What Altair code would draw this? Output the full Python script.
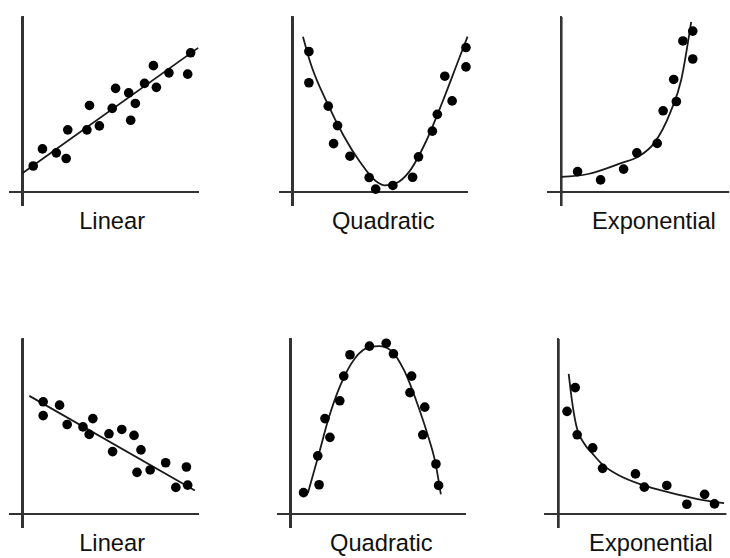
import altair as alt
import pandas as pd

# ---- scatter data and fitted curves for each of the six panels ----
# Top row: increasing relationships
lin_up_x = [10.6, 20.0, 34.0, 44.0, 45.6, 65.0, 67.6, 77.6, 90.6, 94.0, 107.3, 109.3, 114.0, 123.3, 132.3, 135.3, 148.0, 167.0, 170.0]
lin_up_y = [26.4, 43.7, 39.7, 34.0, 63.0, 63.0, 87.7, 67.0, 84.7, 105.0, 100.4, 72.7, 89.7, 110.0, 128.0, 106.0, 120.7, 119.4, 141.0]
lin_up_fit_x = [0.0, 177.6]
lin_up_fit_y = [19.3, 146.0]

quad_up_x = [16.7, 16.7, 36.3, 45.7, 41.7, 58.3, 77.7, 84.3, 101.7, 121.7, 127.7, 141.7, 146.7, 154.3, 161.7, 175.7, 175.7]
quad_up_y = [142.3, 110.7, 87.0, 67.3, 49.0, 36.3, 14.7, 3.0, 6.7, 15.0, 35.7, 61.7, 78.7, 117.3, 92.3, 146.3, 126.7]
quad_up_fit_x = [10.7, 18.3, 35.0, 51.7, 68.3, 85.0, 93.3, 105.0, 118.3, 135.0, 151.7, 168.3, 177.3]
quad_up_fit_y = [157.3, 130.7, 90.7, 57.3, 30.7, 10.7, 6.7, 9.0, 20.7, 50.7, 90.7, 134.0, 157.3]

exp_up_x = [16.7, 40.0, 63.3, 76.7, 97.3, 103.3, 116.7, 114.0, 123.3, 133.3, 133.3]
exp_up_y = [20.7, 12.3, 23.3, 39.7, 49.3, 82.3, 91.7, 114.0, 153.0, 163.0, 134.7]
exp_up_fit_x = [0.0, 27.3, 60.7, 78.3, 94.0, 110.7, 121.7, 131.7]
exp_up_fit_y = [15.3, 18.3, 29.3, 36.0, 49.3, 81.0, 114.0, 172.3]

# Bottom row: decreasing / peaked relationships
lin_down_x = [20.7, 20.7, 37.3, 45.0, 61.0, 67.3, 71.0, 87.3, 91.0, 100.3, 112.7, 119.7, 115.7, 129.0, 144.7, 155.0, 165.7, 167.0]
lin_down_y = [113.7, 99.7, 110.3, 90.7, 88.3, 80.7, 96.7, 81.3, 63.3, 85.7, 79.7, 65.0, 42.3, 44.7, 52.0, 27.0, 47.7, 29.3]
lin_down_fit_x = [6.7, 174.3]
lin_down_fit_y = [119.7, 24.0]

quad_down_x = [13.3, 29.0, 27.7, 40.0, 35.0, 50.0, 54.0, 60.3, 80.0, 97.0, 104.3, 122.7, 121.0, 136.0, 134.0, 147.3, 150.0]
quad_down_y = [21.7, 29.7, 59.0, 77.7, 96.7, 114.7, 139.7, 161.3, 170.0, 173.0, 162.3, 139.7, 123.0, 108.3, 80.3, 50.7, 29.0]
quad_down_fit_x = [17.7, 28.3, 38.3, 50.0, 65.0, 80.0, 90.0, 101.7, 115.0, 128.3, 138.3, 146.7, 152.3]
quad_down_fit_y = [21.3, 59.0, 95.7, 129.0, 157.3, 169.0, 170.0, 165.7, 145.7, 112.3, 82.3, 52.3, 20.0]

exp_down_x = [9.0, 17.3, 19.3, 35.0, 45.0, 78.3, 87.3, 110.0, 130.3, 148.3, 158.3]
exp_down_y = [104.0, 128.0, 80.3, 67.0, 46.3, 40.7, 27.3, 29.0, 10.0, 20.0, 10.3]
exp_down_fit_x = [10.7, 14.0, 18.3, 26.7, 35.0, 45.0, 60.0, 86.7, 113.3, 140.0, 168.0]
exp_down_fit_y = [142.0, 115.0, 90.0, 71.0, 61.0, 50.0, 40.0, 29.0, 21.7, 15.5, 11.0]

FONT = "Liberation Sans"
Y_DOMAIN = [-14, 186]
PANEL_H = 200


def panel(label, xs, ys, fx, fy, x_max, width, axis_end, title_dx):
    pts = pd.DataFrame({"x": xs, "y": ys})
    fit = pd.DataFrame({"x": fx, "y": fy})
    xs_scale = alt.Scale(domain=[-14, x_max], nice=False, zero=False)
    ys_scale = alt.Scale(domain=Y_DOMAIN, nice=False, zero=False)

    # plain crossing axis lines
    x_axis = alt.Chart(pts).mark_rule(color="#333", strokeWidth=2).encode(
        x=alt.datum(-13.5, scale=xs_scale, axis=None),
        x2=alt.datum(axis_end),
        y=alt.datum(0, scale=ys_scale, axis=None),
    )
    y_axis = alt.Chart(pts).mark_rule(color="#333", strokeWidth=2).encode(
        x=alt.datum(0, scale=xs_scale, axis=None),
        y=alt.datum(-14, scale=ys_scale, axis=None),
        y2=alt.datum(177.5),
    )
    curve = alt.Chart(fit).mark_line(
        color="#1a1a1a", strokeWidth=1.8, interpolate="monotone"
    ).encode(
        x=alt.X("x:Q", scale=xs_scale, axis=None),
        y=alt.Y("y:Q", scale=ys_scale, axis=None),
    )
    dots = alt.Chart(pts).mark_circle(color="#000", opacity=1, size=95).encode(
        x=alt.X("x:Q", scale=xs_scale, axis=None),
        y=alt.Y("y:Q", scale=ys_scale, axis=None),
    )
    return alt.layer(x_axis, y_axis, curve, dots).properties(
        width=width,
        height=PANEL_H,
        title=alt.TitleParams(
            label, orient="bottom", anchor="middle", font=FONT, fontSize=24,
            fontWeight="normal", color="#111", offset=3, dx=title_dx,
        ),
    )


top = alt.hconcat(
    panel("Linear", lin_up_x, lin_up_y, lin_up_fit_x, lin_up_fit_y, 180, 194, 178.3, 7.5),
    panel("Quadratic", quad_up_x, quad_up_y, quad_up_fit_x, quad_up_fit_y, 180, 194, 177.6, 9),
    panel("Exponential", exp_up_x, exp_up_y, exp_up_fit_x, exp_up_fit_y, 168, 182, 170, 17),
    spacing=76,
)
bottom = alt.hconcat(
    panel("Linear", lin_down_x, lin_down_y, lin_down_fit_x, lin_down_fit_y, 180, 194, 178.3, 7.5),
    panel("Quadratic", quad_down_x, quad_down_y, quad_down_fit_x, quad_down_fit_y, 180, 194, 177.6, 9),
    panel("Exponential", exp_down_x, exp_down_y, exp_down_fit_x, exp_down_fit_y, 168, 182, 170, 17),
    spacing=76,
)

chart = alt.vconcat(top, bottom, spacing=98).properties(
    padding={"left": 8, "top": 5, "right": 0, "bottom": 0},
    background="white",
).configure_view(stroke=None).configure_concat(spacing=76)

chart.save("out.html", embed_options={"renderer": "svg", "actions": False})
